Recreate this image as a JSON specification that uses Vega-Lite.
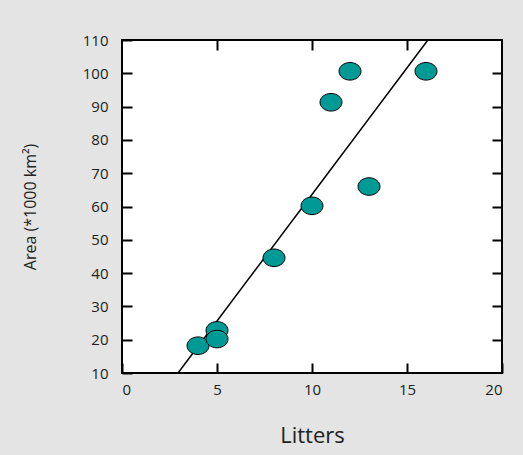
{
  "$schema": "https://vega.github.io/schema/vega-lite/v6.json",
  "width": 380,
  "height": 333,
  "autosize": "none",
  "padding": {"left": 122, "top": 40, "right": 21, "bottom": 82},
  "background": "#e3e4e3",
  "config": {
    "view": {"fill": "white", "stroke": "black", "strokeWidth": 2},
    "axis": {
      "labelFont": "Open Sans",
      "titleFont": "Open Sans",
      "labelFontSize": 15,
      "labelColor": "#222",
      "titleColor": "#222",
      "titleFontWeight": "normal",
      "domain": false,
      "grid": false,
      "tickColor": "black",
      "tickWidth": 2
    }
  },
  "layer": [
    {
      "data": {"values": [{"Litters": 2.95, "Area": 10}, {"Litters": 16.1, "Area": 110}]},
      "mark": {"type": "line", "color": "black", "strokeWidth": 1.5},
      "encoding": {
        "x": {"field": "Litters", "type": "quantitative", "scale": {"domain": [0, 20], "nice": false},
          "axis": {"orient": "bottom", "values": [0, 5, 10, 15, 20], "tickSize": -10, "labelPadding": 19, "title": "Litters", "titleFontSize": 22, "titlePadding": 28}},
        "y": {"field": "Area", "type": "quantitative", "scale": {"domain": [10, 110], "nice": false, "zero": false},
          "axis": {"orient": "left", "values": [10, 20, 30, 40, 50, 60, 70, 80, 90, 100, 110], "tickSize": -10, "labelPadding": 24, "title": "Area (*1000 km²)", "titleFontSize": 16, "titlePadding": 44}}
      }
    },
    {
      "data": {"values": [
        {"Litters": 4, "Area": 18.2},
        {"Litters": 5, "Area": 22.8},
        {"Litters": 5, "Area": 20.2},
        {"Litters": 8, "Area": 44.6},
        {"Litters": 10, "Area": 60.2},
        {"Litters": 11, "Area": 91.3},
        {"Litters": 12, "Area": 100.6},
        {"Litters": 13, "Area": 66},
        {"Litters": 16, "Area": 100.6}
      ]},
      "mark": {"type": "point", "shape": "M-1,0A1,0.8,0,1,0,1,0A1,0.8,0,1,0,-1,0Z", "size": 484, "filled": true, "fill": "#009a96", "stroke": "black", "strokeWidth": 1, "opacity": 1},
      "encoding": {
        "x": {"field": "Litters", "type": "quantitative",
          "axis": {"orient": "top", "values": [5, 10, 15], "tickSize": -10, "labels": false, "title": null}},
        "y": {"field": "Area", "type": "quantitative",
          "axis": {"orient": "right", "values": [20, 30, 40, 50, 60, 70, 80, 90, 100], "tickSize": -10, "labels": false, "title": null}}
      }
    }
  ],
  "resolve": {"axis": {"x": "independent", "y": "independent"}}
}
